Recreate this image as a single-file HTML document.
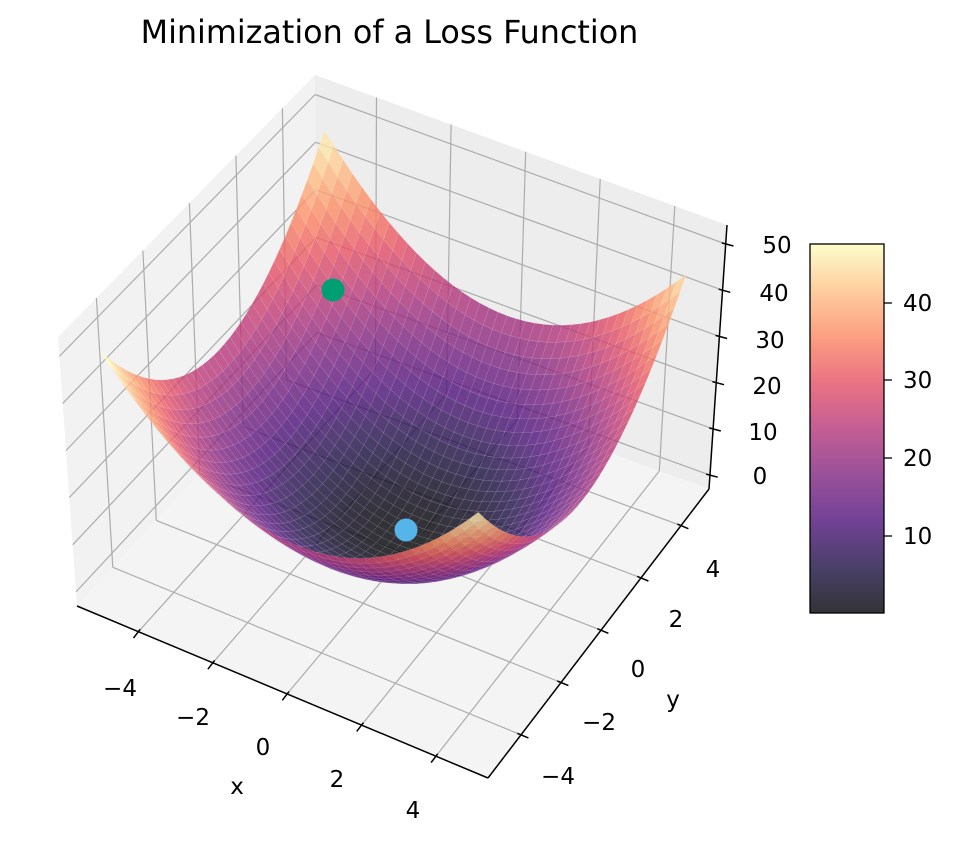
<!DOCTYPE html>
<html><head><meta charset="utf-8">
<style>
html,body{margin:0;padding:0;background:#fff;}
svg{display:block;}
text{font-family:"DejaVu Sans","Liberation Sans",sans-serif;fill:#000;}
</style></head>
<body>
<svg id="s" width="956" height="846" viewBox="0 0 956 846" xmlns="http://www.w3.org/2000/svg">
<defs>
<linearGradient id="cb" x1="0" y1="1" x2="0" y2="0">
<stop offset="0" stop-color="#000004"/>
<stop offset="0.125" stop-color="#1c1044"/>
<stop offset="0.25" stop-color="#4f127b"/>
<stop offset="0.375" stop-color="#812581"/>
<stop offset="0.5" stop-color="#b5367a"/>
<stop offset="0.625" stop-color="#e55064"/>
<stop offset="0.75" stop-color="#fb8761"/>
<stop offset="0.875" stop-color="#fec287"/>
<stop offset="1" stop-color="#fcfdbf"/>
</linearGradient>
</defs>
<g id="panes"></g>
<g id="grid" stroke="#acacac" stroke-width="1.2" fill="none"></g>
<g id="axes" stroke="#000" stroke-width="1.5" fill="none"></g>
<g id="surf"></g>
<circle cx="333" cy="290" r="11.5" fill="#009e73"/>
<circle cx="406" cy="530" r="11.5" fill="#56b4e9"/>

<text x="389.5" y="43" font-size="31.8" text-anchor="middle">Minimization of a Loss Function</text>

<g font-size="23" text-anchor="middle">
<text x="120" y="696">−4</text>
<text x="193" y="725">−2</text>
<text x="263" y="755">0</text>
<text x="337" y="787">2</text>
<text x="413" y="818">4</text>
<text x="237" y="794">x</text>
<text x="713" y="577">4</text>
<text x="676" y="627">2</text>
<text x="638" y="677">0</text>
<text x="599" y="730">−2</text>
<text x="558" y="784">−4</text>
<text x="673" y="707">y</text>
<text x="777" y="253">50</text>
<text x="774" y="301">40</text>
<text x="770" y="348">30</text>
<text x="767" y="394">20</text>
<text x="763" y="440">10</text>
<text x="760" y="484">0</text>
</g>

<rect x="810" y="244" width="74" height="369" fill="url(#cb)" fill-opacity="0.8"/>
<rect x="810" y="244" width="74" height="369" fill="none" stroke="#000" stroke-width="1.3"/>
<g stroke="#000" stroke-width="1.3">
<line x1="884" y1="303" x2="892" y2="303"/>
<line x1="884" y1="380" x2="892" y2="380"/>
<line x1="884" y1="458" x2="892" y2="458"/>
<line x1="884" y1="536" x2="892" y2="536"/>
</g>
<g font-size="23">
<text x="903" y="311">40</text>
<text x="903" y="388">30</text>
<text x="903" y="466">20</text>
<text x="903" y="544">10</text>
</g>
</svg>
<script>
(function(){
var NS="http://www.w3.org/2000/svg";
var A=[77,606],B=[488,778],C=[709,489],D=[317,347];
var A2=[58,337],B2=[490,508],C2=[727,225],D2=[315,75];
var XMIN=-5.65,XR=11.05,ZMIN=-3,ZR=57.1;
function bil(p00,p10,p11,p01,u,v){
 return [(1-u)*(1-v)*p00[0]+u*(1-v)*p10[0]+u*v*p11[0]+(1-u)*v*p01[0],
         (1-u)*(1-v)*p00[1]+u*(1-v)*p10[1]+u*v*p11[1]+(1-u)*v*p01[1]];}
function P(x,y,z){
 var u=(x-XMIN)/XR,v=(y-XMIN)/XR,w=(z-ZMIN)/ZR;
 var f=bil(A,B,C,D,u,v),t=bil(A2,B2,C2,D2,u,v);
 return [f[0]+w*(t[0]-f[0]),f[1]+w*(t[1]-f[1])];}
function el(tag,at,par){var e=document.createElementNS(NS,tag);for(var k in at)e.setAttribute(k,at[k]);par.appendChild(e);return e;}
function pts(a){return a.map(function(p){return p[0].toFixed(1)+","+p[1].toFixed(1);}).join(" ");}
var xm=XMIN,xM=XMIN+XR,zm=ZMIN,zM=ZMIN+ZR;
var panes=document.getElementById("panes");
el("polygon",{points:pts([P(xm,xm,zm),P(xm,xM,zm),P(xm,xM,zM),P(xm,xm,zM)]),fill:"#f2f2f2"},panes);
el("polygon",{points:pts([P(xm,xM,zm),P(xM,xM,zm),P(xM,xM,zM),P(xm,xM,zM)]),fill:"#ededed"},panes);
el("polygon",{points:pts([P(xm,xm,zm),P(xM,xm,zm),P(xM,xM,zm),P(xm,xM,zm)]),fill:"#f4f4f4"},panes);
var g=document.getElementById("grid");
function ln(p,q,par){el("line",{x1:p[0].toFixed(1),y1:p[1].toFixed(1),x2:q[0].toFixed(1),y2:q[1].toFixed(1)},par);}
var T=[-4,-2,0,2,4];
T.forEach(function(t){
 ln(P(xm,t,zm),P(xm,t,zM),g);
 ln(P(t,xM,zm),P(t,xM,zM),g);
 ln(P(t,xm,zm),P(t,xM,zm),g);
 ln(P(xm,t,zm),P(xM,t,zm),g);
});
[0,10,20,30,40,50].forEach(function(z){
 ln(P(xm,xm,z),P(xm,xM,z),g);
 ln(P(xm,xM,z),P(xM,xM,z),g);
});
var ax=document.getElementById("axes");
ln(P(xm,xm,zm),P(xM,xm,zm),ax);
ln(P(xM,xm,zm),P(xM,xM,zm),ax);
ln(P(xM,xM,zm),P(xM,xM,zM),ax);
function tick(p,d,a,b){ln([p[0]+d[0]*a,p[1]+d[1]*a],[p[0]+d[0]*b,p[1]+d[1]*b],ax);}
T.forEach(function(t){
 tick(P(t,xm,zm),[-0.607,0.794],-3,8);
 tick(P(xM,t,zm),[0.923,0.386],-4,8);
});
[0,10,20,30,40,50].forEach(function(z){tick(P(xM,xM,z),[0.965,0.26],-4,8);});
var st=[[0,[0,0,4]],[.125,[28,16,68]],[.25,[79,18,123]],[.375,[129,37,129]],[.5,[181,54,122]],[.625,[229,80,100]],[.75,[251,135,97]],[.875,[254,194,135]],[1,[252,253,191]]];
function cm(t){t=Math.max(0,Math.min(1,t));for(var i=1;i<st.length;i++){if(t<=st[i][0]){var a=st[i-1],b=st[i],f=(t-a[0])/(b[0]-a[0]);return "rgb("+[0,1,2].map(function(k){return Math.round(a[1][k]+f*(b[1][k]-a[1][k]));}).join(",")+")";}}return "rgb(252,253,191)";}
var xs=[];for(var i=0;i<40;i++)xs.push(-5+0.25*i);
var faces=[];var vmin=0.0625,vmax=47.5625;
function Z(x,y){return x*x+y*y;}
for(var i=0;i<39;i++)for(var j=0;j<39;j++){
 var x0=xs[i],x1=xs[i+1],y0=xs[j],y1=xs[j+1];
 var z00=Z(x0,y0),z10=Z(x1,y0),z11=Z(x1,y1),z01=Z(x0,y1);
 var za=(z00+z10+z11+z01)/4,xc=(x0+x1)/2,yc=(y0+y1)/2;
 var u=(xc-XMIN)/XR-.5,v=(yc-XMIN)/XR-.5,w=(za-ZMIN)/ZR-.5;
 var cl=0.433*u-0.75*v+0.375*w;
 faces.push({p:[P(x0,y0,z00),P(x1,y0,z10),P(x1,y1,z11),P(x0,y1,z01)],c:cm((za-vmin)/(vmax-vmin)),d:cl});
}
faces.sort(function(a,b){return a.d-b.d;});
var sg=document.getElementById("surf");
var frag=document.createDocumentFragment();
faces.forEach(function(f){
 var e=document.createElementNS(NS,"polygon");
 e.setAttribute("points",pts(f.p));
 e.setAttribute("fill",f.c);e.setAttribute("fill-opacity","0.8");
 e.setAttribute("stroke","rgba(255,255,255,0.18)");e.setAttribute("stroke-width","0.4");
 frag.appendChild(e);
});
sg.appendChild(frag);
})();
</script>
</body></html>
